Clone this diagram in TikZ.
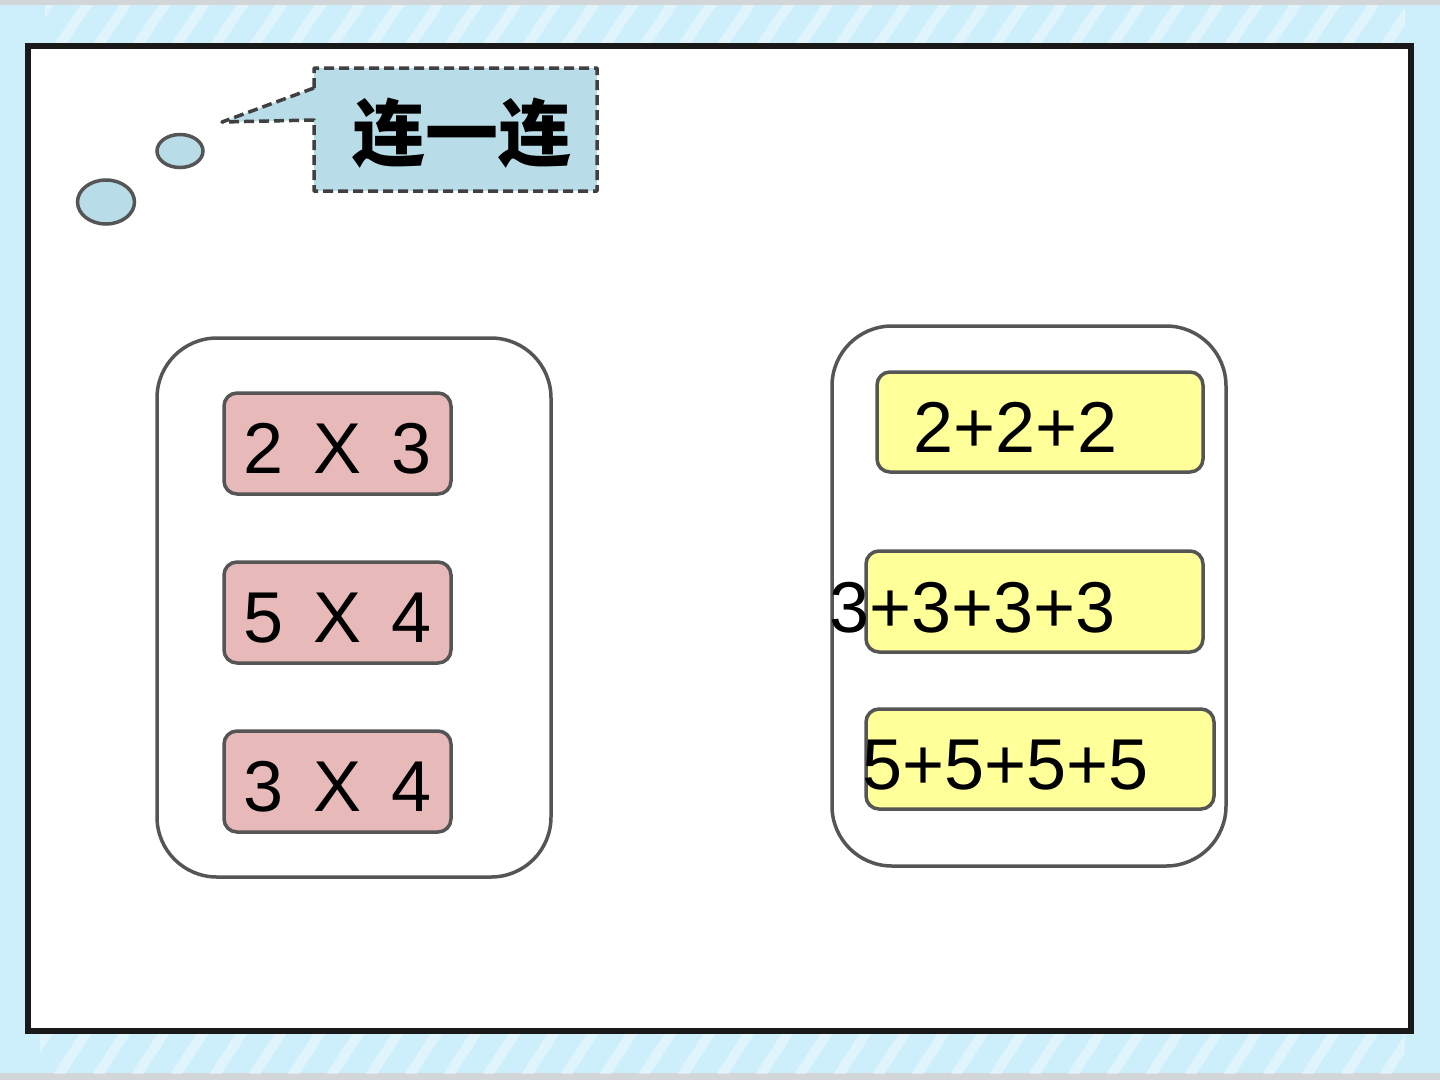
\documentclass[tikz,border=0pt]{standalone}
\usepackage{fontspec}
\usetikzlibrary{shapes.geometric}
\setmainfont{Liberation Sans}
\newfontfamily\cjk{Noto Sans CJK SC}
\newfontfamily\boxfont[WordSpace=1.5]{Liberation Sans}
\definecolor{bgblue}{HTML}{CDEEFB}
\definecolor{bubble}{HTML}{B8DCE8}
\definecolor{edge}{HTML}{555555}
\definecolor{dashc}{HTML}{404040}
\definecolor{pinkbox}{HTML}{E8B9B9}
\definecolor{yellowbox}{HTML}{FFFF99}
\definecolor{graystrip}{HTML}{D3D6D8}
\tikzset{
  group/.style={draw=edge, line width=3.5pt, fill=white, rounded corners=60pt},
  pinkcard/.style={draw=edge, line width=3.5pt, fill=pinkbox, rounded corners=13pt},
  yellowcard/.style={draw=edge, line width=3.5pt, fill=yellowbox, rounded corners=13pt},
  bubbledot/.style={draw=edge, line width=3.5pt, fill=bubble},
  bigtxt/.style={font=\fontsize{72}{72}\selectfont, inner sep=0pt, text=black},
  stripe/.style={white, opacity=0.38, line width=10pt}
}
\begin{document}
\begin{tikzpicture}[x=1pt,y=-1pt]
\useasboundingbox (0,0) rectangle (1440,1080);
% background
\fill[bgblue] (0,0) rectangle (1440,1080);
\fill[graystrip] (0,0) rectangle (1440,5);
\fill[graystrip] (0,1073) rectangle (1440,1080);
% stripes
\begin{scope}
\clip (45,5) rectangle (1405,45);
\foreach \i in {0,...,40} {
  \draw[stripe] (\i*39-20,47) -- (\i*39+10,3);
}
\end{scope}
\begin{scope}
\clip (40,1032) rectangle (1405,1073);
\foreach \i in {0,...,40} {
  \draw[stripe] (\i*39-20,1076) -- (\i*39+10,1030);
}
\end{scope}
% frame
\draw[line width=6.5pt, draw=black!90, fill=white] (28,46) rectangle (1411,1031);
% callout
\fill[bubble] (314,68) -- (597,68) -- (597,191) -- (314,191) -- (314,120) -- (222,122) -- (314,88) -- cycle;
\draw[dashc, line width=3.5pt, dash pattern=on 10pt off 5pt, line join=round]
  (314,88) -- (314,68) -- (597,68) -- (597,191) -- (314,191) -- (314,120) -- (222,122) -- cycle;
\node[inner sep=0pt, font=\cjk\bfseries\fontsize{73}{73}\selectfont] (title) at (462,133) {连一连};
% thought bubbles
\node[bubbledot, ellipse, minimum width=46pt, minimum height=33pt, inner sep=0pt] (dotA) at (180,151) {};
\node[bubbledot, ellipse, minimum width=57pt, minimum height=44pt, inner sep=0pt] (dotB) at (106,202) {};
% groups
\draw[group] (157,338) rectangle (551,877);
\draw[group] (832,326) rectangle (1226,866);
% pink cards
\draw[pinkcard] (224,393) rectangle (451,494);
\draw[pinkcard] (224,562) rectangle (451,663);
\draw[pinkcard] (224,731) rectangle (451,832);
\node[bigtxt, anchor=base, font=\boxfont\fontsize{72}{72}\selectfont] (m1) at (337.5,473) {2 X 3};
\node[bigtxt, anchor=base, font=\boxfont\fontsize{72}{72}\selectfont] (m2) at (337.5,642) {5 X 4};
\node[bigtxt, anchor=base, font=\boxfont\fontsize{72}{72}\selectfont] (m3) at (337.5,811) {3 X 4};
% yellow cards
\draw[yellowcard] (877,372) rectangle (1203,472);
\draw[yellowcard] (866,551) rectangle (1203,652);
\draw[yellowcard] (866,709) rectangle (1214,809);
\node[bigtxt, anchor=base west] (s1) at (913,452) {2+2+2};
\node[bigtxt, anchor=base west] (s2) at (829,632) {3+3+3+3};
\node[bigtxt, anchor=base west] (s3) at (862,789) {5+5+5+5};
\end{tikzpicture}
\end{document}
